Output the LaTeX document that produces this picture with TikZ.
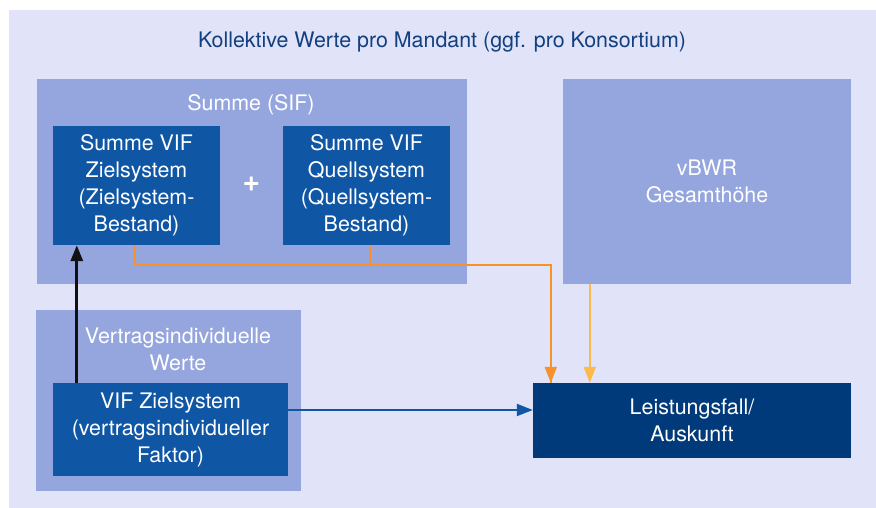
\documentclass[tikz,border=0pt]{standalone}
\usepackage{fontspec}
\setmainfont{TeX Gyre Heros}
\usetikzlibrary{arrows.meta,calc}
\definecolor{bgl}{HTML}{E1E3F8}
\definecolor{midb}{HTML}{95A6DE}
\definecolor{darkb}{HTML}{0F56A5}
\definecolor{navy}{HTML}{003A7A}
\definecolor{orng}{HTML}{F7922A}
\definecolor{yell}{HTML}{FDB94A}
\definecolor{titleb}{HTML}{123F80}
\definecolor{blk}{HTML}{111111}
\tikzset{
  area/.style={rectangle, inner sep=0pt, fill=midb, draw=none},
  dbox/.style={rectangle, inner sep=0pt, fill=darkb, draw=none, text=white, align=center,
    font=\fontsize{21.4}{27}\selectfont},
  lbl/.style={inner sep=0pt, align=center, font=\fontsize{21.4}{27}\selectfont},
  tip/.style={-{Triangle[width=12pt,length=16pt]}},
  conn/.style={line width=2pt, tip},
}
\begin{document}
\begin{tikzpicture}[x=1pt,y=-1pt]
\useasboundingbox (0,0) rectangle (876,508);
\fill[white] (0,0) rectangle (876,508);
\node[rectangle, inner sep=0pt, fill=bgl, minimum width=867pt, minimum height=498pt] (outer) at (442.5,259) {};
\node[lbl, text=titleb] (title) at (442,42) {Kollektive Werte pro Mandant (ggf. pro Konsortium)};
% Summe (SIF)
\node[area, minimum width=430pt, minimum height=205pt] (sif) at (252,181.5) {};
\node[lbl, text=white] (siftitle) at (251,105) {Summe (SIF)};
\node[dbox, minimum width=167pt, minimum height=119pt] (zsum) at (136.5,185.5) {Summe VIF\\Zielsystem\\(Zielsystem-\\Bestand)};
\node[dbox, minimum width=167pt, minimum height=119pt] (qsum) at (366.5,185.5) {Summe VIF\\Quellsystem\\(Quellsystem-\\Bestand)};
\node[lbl, text=white, font=\fontsize{30}{30}\selectfont\bfseries] (plus) at (251.5,184) {+};
% vBWR
\node[area, minimum width=288pt, minimum height=205pt, text=white, align=center, font=\fontsize{21.4}{27}\selectfont] (vbwr) at (707,181.5) {vBWR\\Gesamthöhe};
% Vertragsindividuelle Werte
\node[area, minimum width=265pt, minimum height=181pt] (vw) at (168.5,400.5) {};
\node[lbl, text=white] (vwtitle) at (178,349) {Vertragsindividuelle\\Werte};
\node[dbox, minimum width=235pt, minimum height=93pt] (vif) at (170.5,429.5) {VIF Zielsystem\\(vertragsindividueller\\Faktor)};
% Leistungsfall
\node[dbox, fill=navy, minimum width=318pt, minimum height=75pt] (lf) at (692,420.5) {Leistungsfall/\\Auskunft};
% connectors
\draw[conn, blk, line width=3pt] ([xshift=24pt]vif.north west) -- ([xshift=24pt]vif.north west |- zsum.south);
\draw[line width=2pt, orng] ([xshift=-1.5pt]zsum.south) -- ++(0,20) -| ([xshift=18pt]lf.north west);
\draw[line width=2pt, orng] ([xshift=3.5pt]qsum.south) -- ++(0,20);
\draw[conn, orng] ([xshift=18pt,yshift=20pt]lf.north west) -- ([xshift=18pt]lf.north west);
\draw[conn, yell] ([xshift=27pt]vbwr.south west) -- ([xshift=27pt]vbwr.south west |- lf.north);
\draw[conn, darkb] ([yshift=19.5pt]vif.east) -- ([yshift=19.5pt]vif.east -| lf.west);
\end{tikzpicture}
\end{document}
